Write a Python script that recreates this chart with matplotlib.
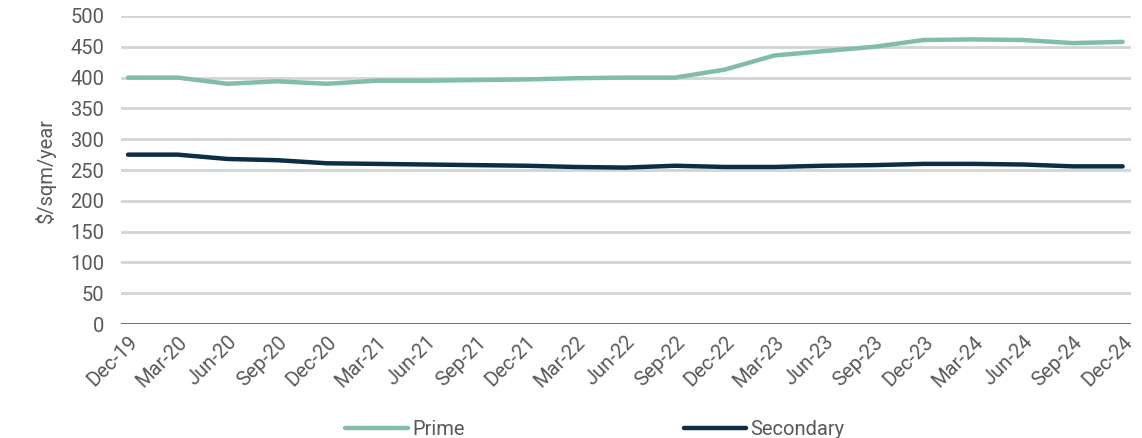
import matplotlib.pyplot as plt

quarters = ['Dec-19', 'Mar-20', 'Jun-20', 'Sep-20', 'Dec-20', 'Mar-21', 'Jun-21',
            'Sep-21', 'Dec-21', 'Mar-22', 'Jun-22', 'Sep-22', 'Dec-22', 'Mar-23',
            'Jun-23', 'Sep-23', 'Dec-23', 'Mar-24', 'Jun-24', 'Sep-24', 'Dec-24']
prime = [400, 400, 390, 394, 390, 395, 395, 396, 397, 399, 400, 400,
         413, 436, 443, 450, 461, 462, 461, 456, 458]
secondary = [275, 275, 268, 266, 261, 260, 259, 258, 257, 255, 254, 257,
             255, 255, 257, 258, 260, 260, 259, 256, 256]

plt.rcParams['font.family'] = ['Roboto', 'DejaVu Sans']

fig = plt.figure(figsize=(11.42, 4.38), dpi=100)
ax = fig.add_axes([0.106, 0.26, 0.884, 0.7035])

x = list(range(len(quarters)))
ax.plot(x, prime, color='#82bdaa', lw=3.2, solid_capstyle='round', label='Prime', zorder=3)
ax.plot(x, secondary, color='#0b2d45', lw=3.2, solid_capstyle='round', label='Secondary', zorder=3)

ax.set_ylim(0, 500)
ax.set_xlim(-0.14, 20.16)
ax.set_yticks(range(0, 501, 50))
ax.set_xticks(x)
ax.set_xticklabels(quarters, rotation=45, ha='right', rotation_mode='anchor')
ax.tick_params(axis='both', length=0, labelsize=14.5, labelcolor='#595959')
ax.tick_params(axis='x', pad=6)
ax.tick_params(axis='y', pad=12)

ax.grid(axis='y', color='#d0d5d5', lw=2)
ax.axhline(0, color='#5c6b6b', lw=2, zorder=2)
for s in ax.spines.values():
    s.set_visible(False)

ax.set_ylabel('$/sqm/year', fontsize=14.5, color='#595959', labelpad=10)

fig.legend(loc='lower center', bbox_to_anchor=(0.521, -0.043), ncol=2, frameon=False,
           fontsize=14.5, labelcolor='#595959', handlelength=3.1, handletextpad=0.2,
           columnspacing=10.9)

fig.savefig('out.png', dpi=100)
